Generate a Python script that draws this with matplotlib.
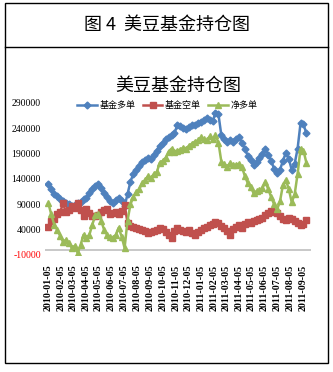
import matplotlib
matplotlib.use("Agg")
import matplotlib.pyplot as plt
from matplotlib.patches import Rectangle
from matplotlib.lines import Line2D
import pandas as pd

plt.rcParams['font.family'] = ['Noto Sans CJK SC', 'DejaVu Sans']

# weekly data, 2010-01-05 .. 2011-09-13
dates = pd.date_range('2010-01-05', periods=89, freq='7D')

long_pos = [130000, 120000, 110000, 106000, 100000, 96000, 93000, 90000, 86000, 88000,
            92000, 95000, 100000, 103000, 112000, 120000, 127000, 130000, 123000, 113000,
            104000, 96000, 92000, 98000, 103000, 96000, 86000, 110000, 135000, 150000,
            158000, 165000, 174000, 178000, 182000, 180000, 188000, 196000, 206000, 212000,
            218000, 222000, 226000, 230000, 247000, 244000, 240000, 238000, 243000, 246000,
            247000, 250000, 253000, 256000, 260000, 256000, 254000, 270000, 268000, 226000,
            218000, 214000, 216000, 214000, 218000, 222000, 212000, 200000, 186000, 178000,
            168000, 174000, 182000, 190000, 200000, 188000, 176000, 160000, 152000, 158000,
            176000, 192000, 180000, 158000, 170000, 200000, 250000, 248000, 230000]

short_pos = [45000, 58000, 62000, 70000, 74000, 92000, 74000, 78000, 86000, 82000,
             92000, 78000, 66000, 80000, 72000, 66000, 66000, 68000, 74000, 78000,
             80000, 70000, 72000, 74000, 70000, 76000, 89000, 54000, 48000, 46000,
             44000, 42000, 40000, 38000, 34000, 36000, 38000, 40000, 44000, 42000,
             36000, 30000, 24000, 38000, 44000, 40000, 38000, 36000, 40000, 34000,
             30000, 36000, 40000, 44000, 46000, 50000, 52000, 56000, 54000, 48000,
             44000, 38000, 30000, 42000, 46000, 50000, 44000, 52000, 56000, 54000,
             58000, 60000, 62000, 64000, 68000, 72000, 76000, 74000, 72000, 66000,
             62000, 60000, 64000, 62000, 58000, 54000, 50000, 52000, 60000]

net_pos = [92000, 70000, 50000, 40000, 28000, 16000, 20000, 14000, 4000, 8000,
           -6000, 10000, 30000, 24000, 30000, 50000, 68000, 70000, 58000, 40000,
           30000, 26000, 24000, 30000, 44000, 26000, 4000, 58000, 90000, 105000,
           114000, 120000, 132000, 138000, 146000, 142000, 150000, 154000, 172000, 176000,
           182000, 194000, 200000, 194000, 196000, 198000, 202000, 200000, 206000, 210000,
           214000, 216000, 222000, 218000, 216000, 224000, 218000, 226000, 212000, 174000,
           170000, 164000, 172000, 168000, 168000, 170000, 164000, 146000, 132000, 124000,
           112000, 116000, 118000, 122000, 134000, 120000, 104000, 90000, 80000, 96000,
           128000, 138000, 120000, 94000, 110000, 150000, 200000, 196000, 172000]

series_names = ['基金多单', '基金空单', '净多单']
y_ticks = [-10000, 40000, 90000, 140000, 190000, 240000, 290000]
x_ticks = pd.date_range('2010-01-01', '2011-09-01', freq='MS') + pd.Timedelta(days=4)

fig = plt.figure(figsize=(3.33, 3.72), dpi=100)

# table frame around the chart
fig.patches.append(Rectangle((4.5 / 333, 1 - 363 / 372), 323 / 333, 360 / 372,
                             transform=fig.transFigure, fill=False, lw=1.0, ec='black'))
fig.lines.append(Line2D([4.5 / 333, 327.5 / 333], [1 - 47 / 372, 1 - 47 / 372],
                        transform=fig.transFigure, lw=1.0, color='black'))
fig.text(0.5, 1 - 25 / 372, '图 4  美豆基金持仓图', ha='center', va='center', fontsize=13)

ax = fig.add_axes([45 / 333, 1 - 255 / 372, 266 / 333, 152 / 372])
ax.set_title('美豆基金持仓图', fontsize=13, pad=9)

ax.plot(dates, long_pos, color='#4F81BD', marker='D', ms=3.5, lw=1.8, label=series_names[0])
ax.plot(dates, short_pos, color='#C0504D', marker='s', ms=4, lw=1.8, label=series_names[1])
ax.plot(dates, net_pos, color='#9BBB59', marker='^', ms=4, lw=1.8, label=series_names[2])
ax.axhline(0, color='#BFBFBF', lw=1.2, zorder=0)

ax.set_ylim(-10000, 290000)
ax.set_xlim(pd.Timestamp('2009-12-28'), pd.Timestamp('2011-09-24'))
ax.set_yticks(y_ticks)
ax.set_yticklabels([str(v) for v in y_ticks], fontsize=7, family='Liberation Serif')
ax.get_yticklabels()[0].set_color('red')
ax.set_xticks(x_ticks)
ax.set_xticklabels([d.strftime('%Y-%m-%d') for d in x_ticks], rotation=90,
                   fontsize=7.2, family='Liberation Serif', fontweight='bold')
ax.tick_params(length=0, pad=7)
ax.tick_params(axis='y', pad=3)
for s in ax.spines.values():
    s.set_visible(False)

ax.legend(loc='lower center', bbox_to_anchor=(0.46, 0.93), ncol=3, frameon=False,
          fontsize=6.5, handlelength=2.2, columnspacing=0.8, handletextpad=0.3,
          borderaxespad=0)

plt.savefig('out.png', dpi=100)
